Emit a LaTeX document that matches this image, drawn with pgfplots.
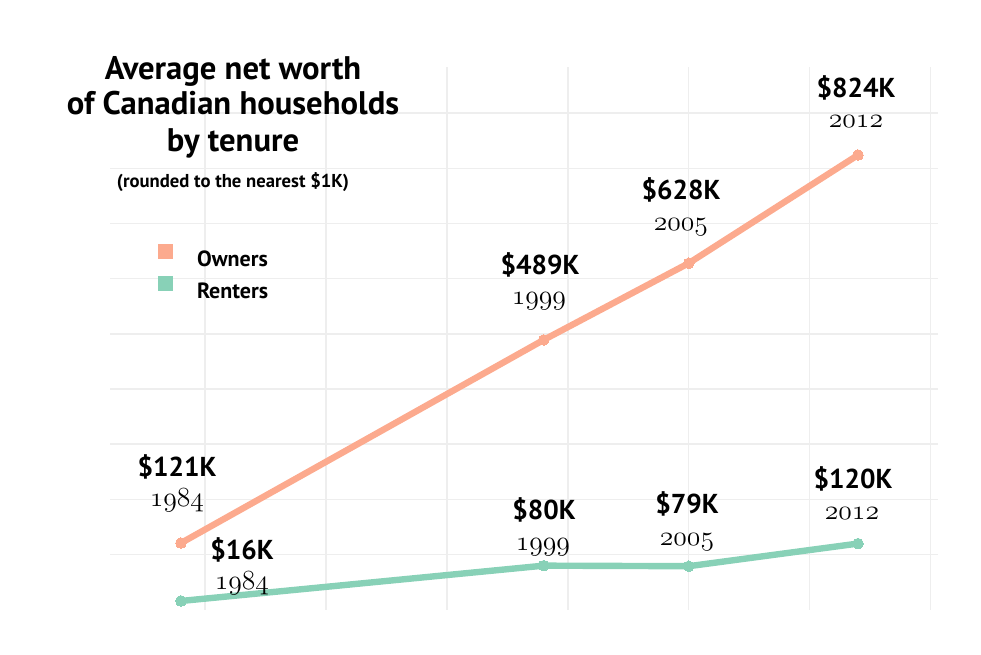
\documentclass[border=0pt]{standalone}
\usepackage{fontspec}
\setsansfont{PT Sans}
\usepackage{pgfplots}
\pgfplotsset{compat=1.18}
\definecolor{own}{HTML}{FCAA8E}
\definecolor{rent}{HTML}{88D1B7}
\definecolor{gridc}{HTML}{EEEEEE}
\newcommand\yr[1]{{\usefont{OML}{cmm}{m}{it}\fontsize{20}{24}\selectfont #1}}
\newcommand\val[1]{{\sffamily\bfseries\fontsize{20.5}{24}\selectfont #1}}
\begin{document}
\begin{tikzpicture}[x=0.75pt,y=0.75pt]
\useasboundingbox (0,0) rectangle (981,654);
\begin{axis}[
  at={(82.5pt,33.15pt)}, anchor=south west,
  scale only axis, width=621pt, height=407.1pt,
  xmin=1981.064, xmax=2015.31, ymin=0, ymax=983.5,
  xtick={1985,1990,...,2015}, ytick={100,200,...,900},
  xticklabels={}, yticklabels={},
  major tick length=0pt,
  axis line style={draw=none},
  grid=major, major grid style={gridc, line width=1.1pt},
  clip=false,
  legend style={draw=none, fill=none, inner sep=0pt, outer sep=0pt,
    at={(axis description cs:0.058,0.674)}, anchor=north west,
    font=\sffamily\bfseries\fontsize{16.5}{19}\selectfont,
    row sep=7.5pt,
    nodes={inner sep=0pt, text height=11.25pt, text depth=0pt},
    /tikz/every odd column/.style={column sep=18pt}},
  legend cell align=left,
  legend image code/.code={\path[fill, draw=none] (0pt,0pt) rectangle (11.25pt,11.25pt);},
]
\addplot[own, line width=4.8pt, line join=round, mark=*, mark size=4pt, mark options={fill=own, draw=own, line width=0pt}]
  coordinates {(1984,121) (1999,489) (2005,628) (2012,824)};
\addlegendentry{Owners}
\addplot[rent, line width=4.8pt, line join=round, mark=*, mark size=4pt, mark options={fill=rent, draw=rent, line width=0pt}]
  coordinates {(1984,16) (1999,80) (2005,79) (2012,120)};
\addlegendentry{Renters}
\end{axis}
% title
\begin{scope}[every node/.style={anchor=base, inner sep=0pt}]
\node[font=\sffamily\bfseries\fontsize{24.5}{28}\selectfont] at (233,574) {Average net worth};
\node[font=\sffamily\bfseries\fontsize{24.5}{28}\selectfont] at (233,539) {of Canadian households};
\node[font=\sffamily\bfseries\fontsize{24.5}{28}\selectfont] at (233,502) {by tenure};
\node[font=\sffamily\bfseries\fontsize{14}{16}\selectfont] at (233,466) {(rounded to the nearest \$1K)};
% owners labels
\node at (177,178) {\val{\$121K}}; \node at (177,148) {\yr{1984}};
\node at (540,379) {\val{\$489K}}; \node at (539,349) {\yr{1999}};
\node at (681,454) {\val{\$628K}}; \node at (681,423) {\yr{2005}};
\node at (856,556) {\val{\$824K}}; \node at (856,526) {\yr{2012}};
% renters labels
\node at (242,95) {\val{\$16K}}; \node at (242,65) {\yr{1984}};
\node at (544,135) {\val{\$80K}}; \node at (543,104) {\yr{1999}};
\node at (687,141) {\val{\$79K}}; \node at (687,109) {\yr{2005}};
\node at (853,166) {\val{\$120K}}; \node at (852,135) {\yr{2012}};
\end{scope}
\end{tikzpicture}
\end{document}
